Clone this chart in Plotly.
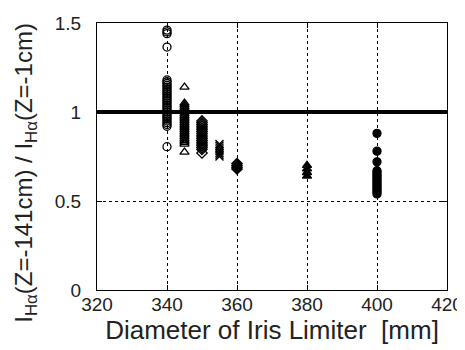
import plotly.graph_objects as go

x_ticks = [320, 340, 360, 380, 400, 420]
y_ticks = [0, 0.5, 1, 1.5]
y_tick_labels = ["0", "0.5", "1", "1.5"]

d340 = 340
v340 = [1.46, 1.45, 1.44, 1.365, 1.18, 1.17, 1.16, 1.15, 1.14, 1.13, 1.12, 1.11, 1.10,
        1.09, 1.08, 1.07, 1.06, 1.05, 1.04, 1.03, 1.02, 1.01, 1.00, 0.99, 0.98, 0.97,
        0.96, 0.95, 0.94, 0.93, 0.92, 0.805]
d345 = 345
v345 = [1.14, 1.05, 1.04, 1.03, 1.02, 1.01, 1.00, 0.99, 0.98, 0.97, 0.96, 0.95, 0.94,
        0.93, 0.92, 0.91, 0.90, 0.89, 0.88, 0.87, 0.86, 0.85, 0.84, 0.83, 0.82, 0.775]
d350 = 350
v350 = [0.95, 0.94, 0.93, 0.92, 0.91, 0.90, 0.89, 0.88, 0.87, 0.86, 0.85, 0.84, 0.83,
        0.82, 0.81, 0.80, 0.79, 0.77]
d355 = 355
v355 = [0.82, 0.81, 0.80, 0.79, 0.78, 0.77, 0.76, 0.75]
d360 = 360
v360 = [0.71, 0.70, 0.69, 0.68]
d380 = 380
v380 = [0.70, 0.68, 0.66, 0.64]
d400 = 400
v400 = [0.88, 0.78, 0.72, 0.67, 0.66, 0.65, 0.64, 0.63, 0.62, 0.61, 0.60, 0.59, 0.58,
        0.57, 0.56, 0.55, 0.54]
ref_level = 1.0

x_title = "Diameter of Iris Limiter  [mm]"
y_title = "I<sub>Hα</sub>(Z=-141cm) / I<sub>Hα</sub>(Z=-1cm)"

series = [
    (d340, v340, "circle-open", 8),
    (d345, v345, "triangle-up-open", 8),
    (d350, v350, "diamond-open", 8),
    (d355, v355, "x-thin-open", 8),
    (d360, v360, "diamond", 8),
    (d380, v380, "triangle-up", 8),
    (d400, v400, "circle", 8),
]

fig = go.Figure()
for d, vals, sym, sz in series:
    fig.add_trace(go.Scatter(
        x=[d] * len(vals), y=vals, mode="markers",
        marker=dict(symbol=sym, size=sz, color="black",
                    line=dict(color="black", width=1.3)),
        showlegend=False, hoverinfo="skip"))

fig.add_shape(type="line", xref="paper", x0=0, x1=1, yref="y", y0=ref_level, y1=ref_level,
              line=dict(color="black", width=4), layer="above")

fig.add_annotation(text=y_title, xref="paper", yref="paper", x=-0.205, y=0.44,
                   textangle=-90, showarrow=False, xanchor="center", yanchor="middle",
                   borderpad=0, font=dict(size=24, color="#222"))

font_family = "Liberation Sans, Arial, sans-serif"
# page body has an 8px default margin; the figure is sized to fit the 465x350 window
fig.update_layout(
    width=457, height=342,
    margin=dict(l=89, r=18, t=15, b=60),
    paper_bgcolor="white", plot_bgcolor="white",
    font=dict(family=font_family, size=19, color="#222"),
    xaxis=dict(range=[320, 420], tickvals=x_ticks, ticks="inside", ticklen=5,
               tickcolor="black", showline=True, linecolor="black", linewidth=1.2,
               mirror="ticks", showgrid=True, gridcolor="black", griddash="dot",
               gridwidth=1, zeroline=False, automargin=False,
               ticklabelstandoff=-3,
               title=dict(text=x_title, font=dict(size=26), standoff=6),
               tickfont=dict(size=19)),
    yaxis=dict(range=[0, 1.5], tickvals=y_ticks, ticktext=y_tick_labels, ticks="inside",
               ticklen=5, tickcolor="black", showline=True, linecolor="black",
               linewidth=1.2, mirror="ticks", showgrid=True, gridcolor="black",
               griddash="dot", gridwidth=1, zeroline=False, automargin=False,
               ticklabelstandoff=11,
               tickfont=dict(size=19)),
)

fig.write_html("out.html")
